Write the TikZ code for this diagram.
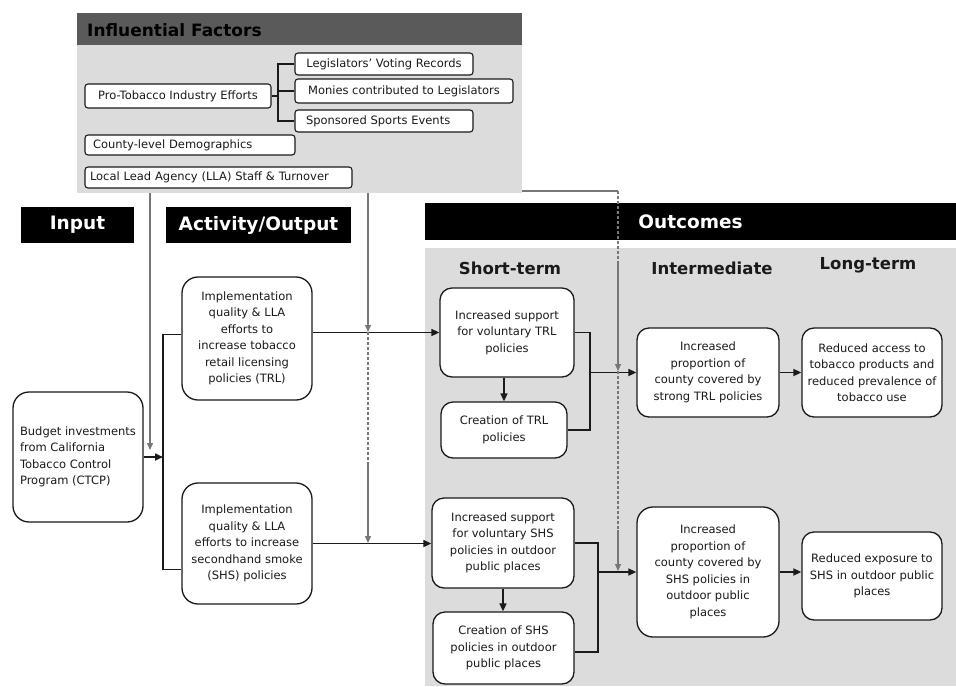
\documentclass[tikz,border=0pt]{standalone}
\usepackage{fontspec}
\setmainfont{DejaVu Sans}
\usetikzlibrary{arrows.meta}
\definecolor{panelgray}{HTML}{DCDCDC}
\definecolor{headgray}{HTML}{5A5A5A}
\definecolor{linegray}{HTML}{777777}
\definecolor{ink}{HTML}{1A1A1A}
\begin{document}
\begin{tikzpicture}[x=1pt,y=-1pt,
  box/.style={draw=ink, line width=1.3pt, fill=white, rounded corners=12pt, align=center,
    font=\fontsize{11.5}{16.5}\selectfont, inner sep=2pt, text=ink},
  fbox/.style={draw=ink, line width=1.1pt, fill=white, rounded corners=3pt,
    font=\fontsize{11.5}{14}\selectfont, inner ysep=0pt, inner xsep=4pt, text=ink},
  lbox/.style={fbox, align=left},
  head/.style={fill=black, text=white, font=\fontsize{18.5}{22}\selectfont\bfseries, inner sep=0pt},
  sub/.style={font=\fontsize{16.5}{20}\selectfont\bfseries, text=ink, inner sep=0pt},
  conn/.style={draw=ink, line width=1.6pt},
  thin/.style={draw=ink, line width=1.1pt},
  arr/.style={conn, -{Triangle[length=8pt,width=7pt]}},
  garr/.style={draw=linegray, line width=1.3pt, -{Triangle[length=7pt,width=6pt]}},
  gline/.style={draw=linegray, line width=1.3pt},
  gdash/.style={draw=linegray, line width=1.3pt, dash pattern=on 3pt off 2pt},
]
\useasboundingbox (0,0) rectangle (956,686);
\fill[white] (0,0) rectangle (956,686);

% Influential factors panel
\fill[panelgray] (77,45) rectangle (522,193);
\node[fill=headgray, minimum width=445pt, minimum height=32pt, inner sep=0pt] (ifhead) at (299.5,29) {};
\node[anchor=west, font=\fontsize{17}{20}\selectfont\bfseries, text=black, inner sep=0pt] (iftitle) at (87,30) {Influential Factors};

\node[fbox, minimum width=186pt, minimum height=24pt] (pro) at (178,96) {Pro-Tobacco Industry Efforts};
\node[fbox, minimum width=178pt, minimum height=22pt] (legis) at (384,64) {Legislators’ Voting Records};
\node[fbox, minimum width=218pt, minimum height=24pt] (monies) at (404,91) {Monies contributed to Legislators};
\node[lbox, inner xsep=11pt, text width=156pt, minimum height=22pt] (spons) at (384,121) {Sponsored Sports Events};
\node[lbox, inner xsep=8pt, text width=194pt, minimum height=20pt] (county) at (190,145) {County-level Demographics};
\node[lbox, inner xsep=5pt, text width=257pt, minimum height=21pt] (lla) at (218.5,177.5) {Local Lead Agency (LLA) Staff \& Turnover};

\coordinate (pj) at (278,96);
\draw[thin] (pro.east) -- (pj);
\draw[thin] (legis.west) -| (pj) |- (spons.west);
\draw[thin] (monies.west) -- (monies.west -| pj);

% Outcomes area
\fill[panelgray] (425,248) rectangle (956,686);

% Headers
\node[head, minimum width=113pt, minimum height=36pt] (input) at (77.5,225) {Input};
\node[head, minimum width=185pt, minimum height=36pt] (activity) at (258.5,225) {Activity/Output};
\node[head, minimum width=531pt, minimum height=37pt] (outcomes) at (690.5,221.5) {Outcomes};
\node[sub] (short) at (510,268) {Short-term};
\node[sub] (inter) at (712,268) {Intermediate};
\node[sub] (long) at (868,265) {Long-term};

% Boxes
\node[box, align=left, minimum width=130pt, minimum height=130pt, rounded corners=16pt] (budget) at (78,457)
  {Budget investments\\from California\\Tobacco Control\\Program (CTCP)};
\node[box, minimum width=130pt, minimum height=123pt, rounded corners=16pt] (trlimp) at (247,338.5)
  {Implementation\\quality \& LLA\\efforts to\\increase tobacco\\retail licensing\\policies (TRL)};
\node[box, minimum width=130pt, minimum height=121pt, rounded corners=16pt] (shsimp) at (247,543.5)
  {Implementation\\quality \& LLA\\efforts to increase\\secondhand smoke\\(SHS) policies};

\node[box, minimum width=134pt, minimum height=89pt] (suptrl) at (507,332.5)
  {Increased support\\for voluntary TRL\\policies};
\node[box, minimum width=126pt, minimum height=56pt] (crtrl) at (504,430)
  {Creation of TRL\\policies};
\node[box, minimum width=142pt, minimum height=89pt] (inttrl) at (708,372.5)
  {Increased\\proportion of\\county covered by\\strong TRL policies};
\node[box, minimum width=140pt, minimum height=89pt] (longtrl) at (872,372.5)
  {Reduced access to\\tobacco products and\\reduced prevalence of\\tobacco use};

\node[box, minimum width=142pt, minimum height=90pt] (supshs) at (503,543)
  {Increased support\\for voluntary SHS\\policies in outdoor\\public places};
\node[box, minimum width=141pt, minimum height=72pt] (crshs) at (503.5,648)
  {Creation of SHS\\policies in outdoor\\public places};
\node[box, minimum width=142pt, minimum height=130pt, rounded corners=16pt] (intshs) at (708,572)
  {Increased\\proportion of\\county covered by\\SHS policies in\\outdoor public\\places};
\node[box, minimum width=140pt, minimum height=88pt] (longshs) at (872,576)
  {Reduced exposure to\\SHS in outdoor public\\places};

% Main connectors
\coordinate (bj) at (163,457);
\draw[arr] (budget.east) -- (bj);
\draw[conn] ([yshift=4pt]trlimp.west) -| (bj) |- ([yshift=-26pt]shsimp.west);
\draw[arr] (trlimp.east |- suptrl.west) -- (suptrl.west);
\draw[arr] (shsimp.east) -- (shsimp.east -| supshs.west);
\draw[arr] (crtrl.north |- suptrl.south) -- (crtrl.north);
\draw[arr] (supshs.south) -- (supshs.south |- crshs.north);

\coordinate (bt) at (590,372.5);
\draw[conn] (suptrl.east) -| (bt) |- (crtrl.east);
\draw[arr] (bt) -- (bt -| inttrl.west);
\draw[arr] (inttrl.east) -- (longtrl.west);

\coordinate (bs) at (598,572);
\draw[conn] (supshs.east) -| (bs) |- ([yshift=-4pt]crshs.east);
\draw[arr] (bs) -- (bs -| intshs.west);
\draw[arr] (intshs.east) -- (intshs.east -| longshs.west);

% Influence lines
\coordinate (g1a) at (150,193);
\coordinate (g1b) at (150,450);
\draw[garr] (g1a) -- (g1b);

\coordinate (g2a) at (368,193);
\coordinate (g2b) at (368,332);
\coordinate (g2c) at (368,463);
\coordinate (g2d) at (368,543);
\draw[garr] (g2a) -- (g2b);
\draw[gdash] (g2b) -- (g2c);
\draw[garr] (g2c) -- (g2d);

\coordinate (g3a) at (522,191);
\coordinate (g3b) at (618,191);
\coordinate (g3c) at (618,263);
\coordinate (g3d) at (618,371);
\coordinate (g3e) at (618,530);
\coordinate (g3f) at (618,571);
\draw[gline] (g3a) -- (g3b);
\draw[gdash] (g3b) -- (g3c);
\draw[garr] (g3c) -- (g3d);
\draw[gdash] (g3d) -- (g3e);
\draw[garr] (g3e) -- (g3f);
\end{tikzpicture}
\end{document}
